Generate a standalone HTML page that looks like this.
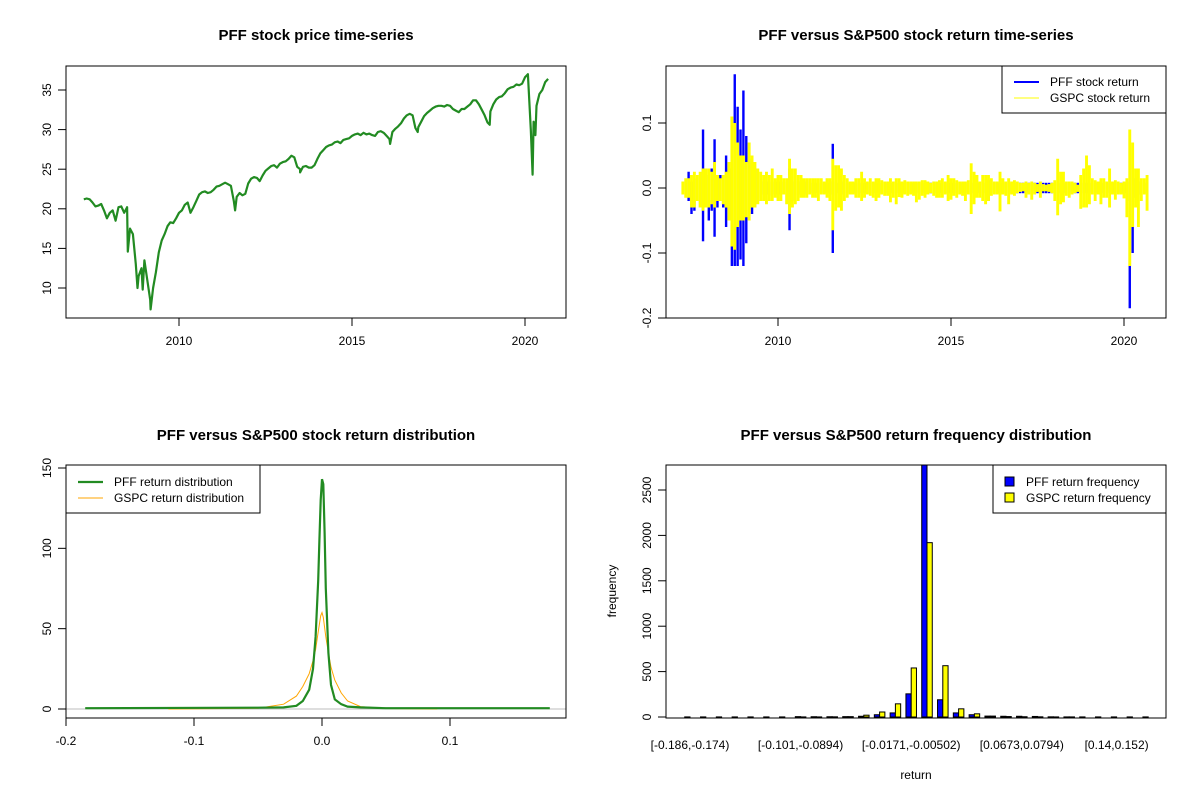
<!DOCTYPE html>
<html><head><meta charset="utf-8"><style>
body{margin:0;background:#fff}
svg{display:block;font-family:"Liberation Sans",Arial,sans-serif}
</style></head><body>
<svg id="chart" width="1200" height="800" viewBox="0 0 1200 800" xmlns="http://www.w3.org/2000/svg">
<rect width="1200" height="800" fill="#fff"/>
<g id="root"></g>
</svg>
<script>
// ---------- DATA ----------
// Price, monthly, Apr 2007 .. Sep 2020
const priceMonthly = [
21.2,21.3,21.2,20.8,20.3,20.4,20.6,19.8,18.8,
19.5,19.8,18.5,20.2,20.3,19.5,20.2,17.5,16.8,13,11.5,12.5,
13.5,11,8.5,10,12,14.5,16,16.8,17.8,18.3,18.2,18.8,
19.5,19.8,20.5,20.8,19.5,20.2,21,21.8,22.1,22.2,22,22.1,
22.4,22.8,22.9,23.1,23.3,23.1,22.9,21,21.5,22,21.7,21.9,
23.2,23.8,24,23.9,23.5,24.2,24.8,25.1,25.4,25.5,25.2,25.7,
25.9,26,26.3,26.7,26.5,25.3,25,25.3,25.4,25.2,25.2,25.5,
26.3,27,27.4,27.8,28,28.1,28.4,28.5,28.3,28.7,28.8,28.9,
29.2,29.4,29.5,29.3,29.6,29.4,29.5,29.3,29.2,29.7,29.8,29.6,
29.2,28.8,29.7,30.1,30.4,30.8,31.4,31.8,32,31.8,30.2,30.3,
31,31.7,32.1,32.4,32.7,32.9,33,33,32.9,33.1,33,32.6,
32.4,32.2,32.6,32.6,32.9,33.2,33.7,33.7,33.2,32.5,31.8,30.9,
32.3,33.2,33.8,34.1,34.2,34.6,35.1,35.3,35.4,35.7,35.6,35.8,
36.6,37,30,31,33,34.5,35,36,36.4];
const priceDipDates = [2008.52,2008.8,2008.95,2009.18,2011.62,2013.5,2016.1,2016.9,2018.98,2020.22,2020.3];
const priceDipVals  = [14.6,10,9.8,7.3,19.8,24.6,28.2,29.7,30.6,24.3,29.3];
// Returns monthly envelopes, Apr 2007 .. Sep 2020
const gspcHi = [.01,.015,.015,.02,.025,.02,.025,.03,.03,
.03,.025,.04,.02,.015,.02,.025,.04,.11,.1,.07,.05,
.05,.04,.07,.05,.04,.03,.025,.02,.025,.02,.03,.015,
.02,.02,.015,.015,.045,.03,.03,.02,.02,.015,.015,.015,
.015,.015,.015,.015,.01,.015,.015,.045,.035,.035,.03,.02,
.015,.01,.01,.015,.015,.025,.015,.01,.015,.01,.015,.015,
.012,.01,.01,.015,.01,.015,.015,.01,.012,.01,.01,.01,
.01,.01,.012,.012,.01,.008,.01,.01,.012,.015,.01,.02,
.015,.015,.012,.01,.01,.01,.012,.038,.025,.02,.01,.02,
.02,.02,.015,.01,.01,.025,.015,.01,.015,.01,.012,.01,
.008,.008,.01,.008,.01,.008,.006,.01,.006,.005,.006,.008,
.012,.045,.025,.025,.01,.01,.01,.008,.005,.02,.03,.05,
.035,.015,.012,.01,.015,.015,.01,.03,.01,.012,.01,.008,
.01,.015,.09,.07,.03,.03,.015,.015,.02];
const gspcLo = [-.01,-.015,-.015,-.03,-.03,-.02,-.03,-.035,-.03,
-.03,-.025,-.03,-.02,-.02,-.025,-.03,-.05,-.09,-.095,-.06,-.05,
-.05,-.045,-.05,-.03,-.03,-.025,-.02,-.02,-.025,-.02,-.02,-.015,
-.02,-.02,-.01,-.025,-.04,-.03,-.025,-.02,-.015,-.015,-.015,-.01,
-.015,-.015,-.02,-.01,-.01,-.015,-.02,-.065,-.035,-.03,-.035,-.02,
-.015,-.01,-.01,-.015,-.015,-.02,-.015,-.01,-.012,-.015,-.02,-.015,
-.01,-.012,-.012,-.022,-.015,-.025,-.014,-.015,-.01,-.012,-.01,-.012,
-.022,-.018,-.012,-.015,-.01,-.008,-.012,-.015,-.015,-.015,-.01,-.02,
-.018,-.012,-.015,-.01,-.012,-.02,-.01,-.04,-.025,-.015,-.015,-.02,
-.025,-.02,-.012,-.01,-.01,-.036,-.01,-.012,-.025,-.01,-.012,-.008,
-.006,-.005,-.015,-.01,-.018,-.01,-.006,-.015,-.005,-.005,-.006,-.008,
-.02,-.042,-.025,-.022,-.012,-.015,-.01,-.008,-.006,-.032,-.03,-.03,
-.025,-.01,-.02,-.01,-.025,-.015,-.015,-.03,-.01,-.018,-.01,-.01,
-.016,-.045,-.12,-.06,-.03,-.06,-.02,-.01,-.035];
const pffHi = [.01,.01,.025,.01,.015,.01,.02,.09,.02,
.02,.03,.075,.02,.02,.015,.05,.03,.1,.175,.125,.09,
.15,.08,.07,.045,.03,.02,.015,.01,.01,.01,.01,.01,
.01,.01,.01,.01,.03,.01,.01,.01,.01,.01,.01,.008,
.008,.008,.008,.008,.008,.008,.01,.068,.01,.008,.01,.008,
.008,.008,.008,.008,.008,.008,.008,.008,.008,.008,.008,.008,
.008,.008,.008,.008,.008,.008,.008,.008,.008,.008,.008,.008,
.008,.008,.008,.008,.008,.008,.008,.008,.008,.008,.008,.008,
.008,.008,.008,.008,.008,.008,.008,.008,.008,.008,.008,.008,
.008,.012,.008,.008,.008,.008,.008,.008,.008,.008,.008,.008,
.008,.008,.008,.008,.008,.008,.008,.008,.008,.008,.008,.008,
.008,.008,.008,.008,.008,.008,.008,.008,.008,.008,.008,.008,
.008,.008,.008,.008,.008,.008,.008,.008,.008,.008,.008,.008,
.008,.01,.067,.07,.015,.01,.008,.008,.008];
const pffLo = [-.005,-.01,-.02,-.04,-.035,-.02,-.03,-.082,-.03,
-.05,-.035,-.075,-.03,-.02,-.03,-.06,-.05,-.12,-.12,-.12,-.11,
-.12,-.085,-.045,-.04,-.03,-.015,-.012,-.01,-.01,-.012,-.01,-.01,
-.01,-.01,-.01,-.01,-.065,-.02,-.01,-.01,-.01,-.01,-.01,-.008,
-.008,-.008,-.008,-.008,-.008,-.008,-.01,-.1,-.012,-.008,-.01,-.008,
-.008,-.008,-.008,-.008,-.008,-.008,-.008,-.008,-.008,-.008,-.008,-.008,
-.008,-.008,-.008,-.008,-.008,-.012,-.008,-.008,-.008,-.008,-.008,-.008,
-.008,-.008,-.008,-.008,-.008,-.008,-.008,-.008,-.008,-.008,-.008,-.008,
-.008,-.008,-.008,-.008,-.008,-.008,-.008,-.008,-.008,-.008,-.008,-.008,
-.008,-.02,-.008,-.008,-.008,-.008,-.008,-.008,-.008,-.008,-.008,-.008,
-.008,-.008,-.008,-.008,-.008,-.008,-.008,-.008,-.008,-.008,-.008,-.008,
-.008,-.008,-.008,-.008,-.008,-.008,-.008,-.008,-.008,-.008,-.008,-.008,
-.008,-.008,-.008,-.008,-.008,-.008,-.008,-.008,-.008,-.008,-.008,-.008,
-.008,-.02,-.185,-.1,-.015,-.01,-.008,-.008,-.008];
// Density
const pffDensX = [-0.185,-0.05,-0.03,-0.02,-0.015,-0.01,-0.007,-0.005,-0.003,-0.002,-0.001,0,0.001,0.002,0.003,0.005,0.007,0.01,0.015,0.02,0.03,0.05,0.178];
const pffDens  = [0.5,0.8,1,2,5,12,25,45,80,105,130,143,140,110,75,35,15,6,3,1.5,1,0.5,0.5];
const gspcDensX = [-0.12,-0.05,-0.03,-0.02,-0.015,-0.01,-0.007,-0.005,-0.003,-0.001,0,0.001,0.003,0.005,0.007,0.01,0.015,0.02,0.03,0.05,0.09];
const gspcDens  = [0,0.5,3,8,14,22,30,37,48,58,60,57,45,35,26,18,10,5,1.5,0.3,0];
// Histogram
const pffFreq  = [1,1,1,1,1,1,1,4,3,3,4,8,25,45,255,2780,190,45,25,10,8,8,6,2,1,1,1,1,1,1];
const gspcFreq = [0,0,0,0,0,0,0,1,1,2,4,20,55,145,540,1920,565,90,35,10,5,3,2,1,1,0,0,0,0,0];
const histLabels = ["[-0.186,-0.174)","[-0.101,-0.0894)","[-0.0171,-0.00502)","[0.0673,0.0794)","[0.14,0.152)"];
const histLabelIdx = [0,7,14,21,27];
const yearTicks = [2010,2015,2020];
const priceTicks = [10,15,20,25,30,35];
const retTicks = [-0.2,-0.1,0,0.1];
const retTickLabels = ["-0.2","-0.1","0.0","0.1"];
const densTicksX = [-0.2,-0.1,0,0.1];
const densTickLabelsX = ["-0.2","-0.1","0.0","0.1"];
const densTicksY = [0,50,100,150];
const freqTicks = [0,500,1000,1500,2000,2500];

// ---------- DRAW ----------
const NS="http://www.w3.org/2000/svg";
const root=document.getElementById('root');
function mk(tag,attrs,parent,txt){const e=document.createElementNS(NS,tag);for(const k in attrs)e.setAttribute(k,attrs[k]);if(txt!==undefined)e.textContent=txt;(parent||root).appendChild(e);return e;}
function grp(name){const g=mk('g',{});


return g;}
function lin(d0,d1,r0,r1){return v=>r0+(v-d0)*(r1-r0)/(d1-d0);}
function title(g,x,y,t){const e=mk('text',{x:x,y:y,'text-anchor':'middle','font-size':'15','font-weight':'bold'},g,t);

}
function box(g,x0,y0,x1,y1){const e=mk('rect',{x:x0,y:y0,width:x1-x0,height:y1-y0,fill:'none',stroke:'#000','stroke-width':1},g);

}
function xAxis(g,ticks,labels,sx,y){const a=grp('x-axis');g.appendChild(a);
mk('line',{x1:sx(ticks[0]),x2:sx(ticks[ticks.length-1]),y1:y,y2:y,stroke:'#000'},a);
ticks.forEach((t,i)=>{mk('line',{x1:sx(t),x2:sx(t),y1:y,y2:y+8,stroke:'#000'},a);
const e=mk('text',{x:sx(t),y:y+27,'text-anchor':'middle','font-size':'12'},a,labels[i]);

});}
function yAxis(g,ticks,labels,sy,x){const a=grp('y-axis');g.appendChild(a);
mk('line',{x1:x,x2:x,y1:sy(ticks[0]),y2:sy(ticks[ticks.length-1]),stroke:'#000'},a);
ticks.forEach((t,i)=>{mk('line',{x1:x,x2:x-8,y1:sy(t),y2:sy(t),stroke:'#000'},a);
const e=mk('text',{x:0,y:0,'text-anchor':'middle','font-size':'12',transform:`translate(${x-15},${sy(t)}) rotate(-90)`},a,labels[i]);

});}
const monthT=i=>2007.25+i/12;

// Panel 1: price
(function(){const g=grp('price-panel');root.appendChild(g);
const sx=lin(2010,2020,179,525), sy=lin(10,35,288,90);
title(g,316,40,'PFF stock price time-series');
const pts=priceMonthly.map((v,i)=>[monthT(i),v]);
priceDipDates.forEach((d,i)=>pts.push([d,priceDipVals[i]]));
pts.sort((a,b)=>a[0]-b[0]);
const p=mk('polyline',{points:pts.map(q=>sx(q[0]).toFixed(1)+','+sy(q[1]).toFixed(1)).join(' '),fill:'none',stroke:'#228B22','stroke-width':2.2,'stroke-linejoin':'round'},g);


box(g,66,66,566,318);
xAxis(g,yearTicks,yearTicks.map(String),sx,318);
yAxis(g,priceTicks,priceTicks.map(String),sy,66);
})();

// Panel 2: returns
(function(){const g=grp('returns-panel');root.appendChild(g);
const sx=lin(2010,2020,778,1124), sy=lin(0,0.1,188,123);
title(g,916,40,'PFF versus S&P500 stock return time-series');
const pb=grp('pff-return-series');g.appendChild(pb);
pffHi.forEach((v,i)=>{const x=sx(monthT(i));mk('rect',{x:x-1.2,y:sy(v),width:2.4,height:sy(pffLo[i])-sy(v),fill:'#0000FF'},pb);});
const yb=grp('gspc-return-series');g.appendChild(yb);
gspcHi.forEach((v,i)=>{const x=sx(monthT(i));mk('rect',{x:x-1.45,y:sy(v),width:2.9,height:sy(gspcLo[i])-sy(v),fill:'#FFFF00'},yb);});
box(g,666,66,1166,318);
xAxis(g,yearTicks,yearTicks.map(String),sx,318);
yAxis(g,retTicks,retTickLabels,sy,666);
const L=grp('returns-legend');g.appendChild(L);
mk('rect',{x:1002,y:66,width:164,height:47,fill:'#fff',stroke:'#000'},L);
mk('line',{x1:1014,x2:1039,y1:82,y2:82,stroke:'#0000FF','stroke-width':2},L);
mk('line',{x1:1014,x2:1039,y1:98,y2:98,stroke:'#FFFF00','stroke-width':1},L);
mk('text',{x:1050,y:86,'font-size':'12'},L,'PFF stock return');
mk('text',{x:1050,y:102,'font-size':'12'},L,'GSPC stock return');
})();

// Panel 3: density
(function(){const g=grp('density-panel');root.appendChild(g);
const sx=lin(-0.2,0.1,66,450), sy=lin(0,150,709,468);
title(g,316,440,'PFF versus S&P500 stock return distribution');
mk('line',{x1:66,x2:566,y1:sy(0),y2:sy(0),stroke:'#BEBEBE'},g);
const o=mk('polyline',{points:gspcDensX.map((x,i)=>sx(x).toFixed(1)+','+sy(gspcDens[i]).toFixed(1)).join(' '),fill:'none',stroke:'#FFA500','stroke-width':1},g);


const p=mk('polyline',{points:pffDensX.map((x,i)=>sx(x).toFixed(1)+','+sy(pffDens[i]).toFixed(1)).join(' '),fill:'none',stroke:'#228B22','stroke-width':2.2},g);


box(g,66,465,566,718);
xAxis(g,densTicksX,densTickLabelsX,sx,718);
yAxis(g,densTicksY,densTicksY.map(String),sy,66);
const L=grp('density-legend');g.appendChild(L);
mk('rect',{x:66,y:465,width:194,height:48,fill:'#fff',stroke:'#000'},L);
mk('line',{x1:78,x2:103,y1:482,y2:482,stroke:'#228B22','stroke-width':2.2},L);
mk('line',{x1:78,x2:103,y1:498,y2:498,stroke:'#FFA500','stroke-width':1},L);
mk('text',{x:114,y:486,'font-size':'12'},L,'PFF return distribution');
mk('text',{x:114,y:502,'font-size':'12'},L,'GSPC return distribution');
})();

// Panel 4: histogram
(function(){const g=grp('histogram-panel');root.appendChild(g);
const sy=lin(0,2500,717,490); const cx=i=>690+i*15.8; const w=5.27;
title(g,916,440,'PFF versus S&P500 return frequency distribution');
const cl=mk('clipPath',{id:'hc'},g);mk('rect',{x:666,y:465,width:500,height:253},cl);
const bars=grp('histogram-bars');g.appendChild(bars);bars.setAttribute('clip-path','url(#hc)');
pffFreq.forEach((v,i)=>{const b=mk('rect',{x:cx(i)-w,y:sy(v),width:w,height:sy(0)-sy(v),fill:'#0000FF',stroke:'#000','stroke-width':1},bars);

});
gspcFreq.forEach((v,i)=>{const b=mk('rect',{x:cx(i),y:sy(v),width:w,height:sy(0)-sy(v),fill:'#FFFF00',stroke:'#000','stroke-width':1},bars);

});
box(g,666,465,1166,718);
yAxis(g,freqTicks,freqTicks.map(String),sy,666);
histLabelIdx.forEach((k,i)=>{const e=mk('text',{x:cx(k),y:749,'text-anchor':'middle','font-size':'12'},g,histLabels[i]);

});
const xt=mk('text',{x:916,y:779,'text-anchor':'middle','font-size':'12'},g,'return');


const yt=mk('text',{x:0,y:0,'text-anchor':'middle','font-size':'12',transform:'translate(616,591) rotate(-90)'},g,'frequency');


const L=grp('histogram-legend');g.appendChild(L);
mk('rect',{x:993,y:465,width:173,height:48,fill:'#fff',stroke:'#000'},L);
mk('rect',{x:1005,y:477,width:9,height:9,fill:'#0000FF',stroke:'#000'},L);
mk('rect',{x:1005,y:493,width:9,height:9,fill:'#FFFF00',stroke:'#000'},L);
mk('text',{x:1026,y:486,'font-size':'12'},L,'PFF return frequency');
mk('text',{x:1026,y:502,'font-size':'12'},L,'GSPC return frequency');
})();
</script>
</body></html>
